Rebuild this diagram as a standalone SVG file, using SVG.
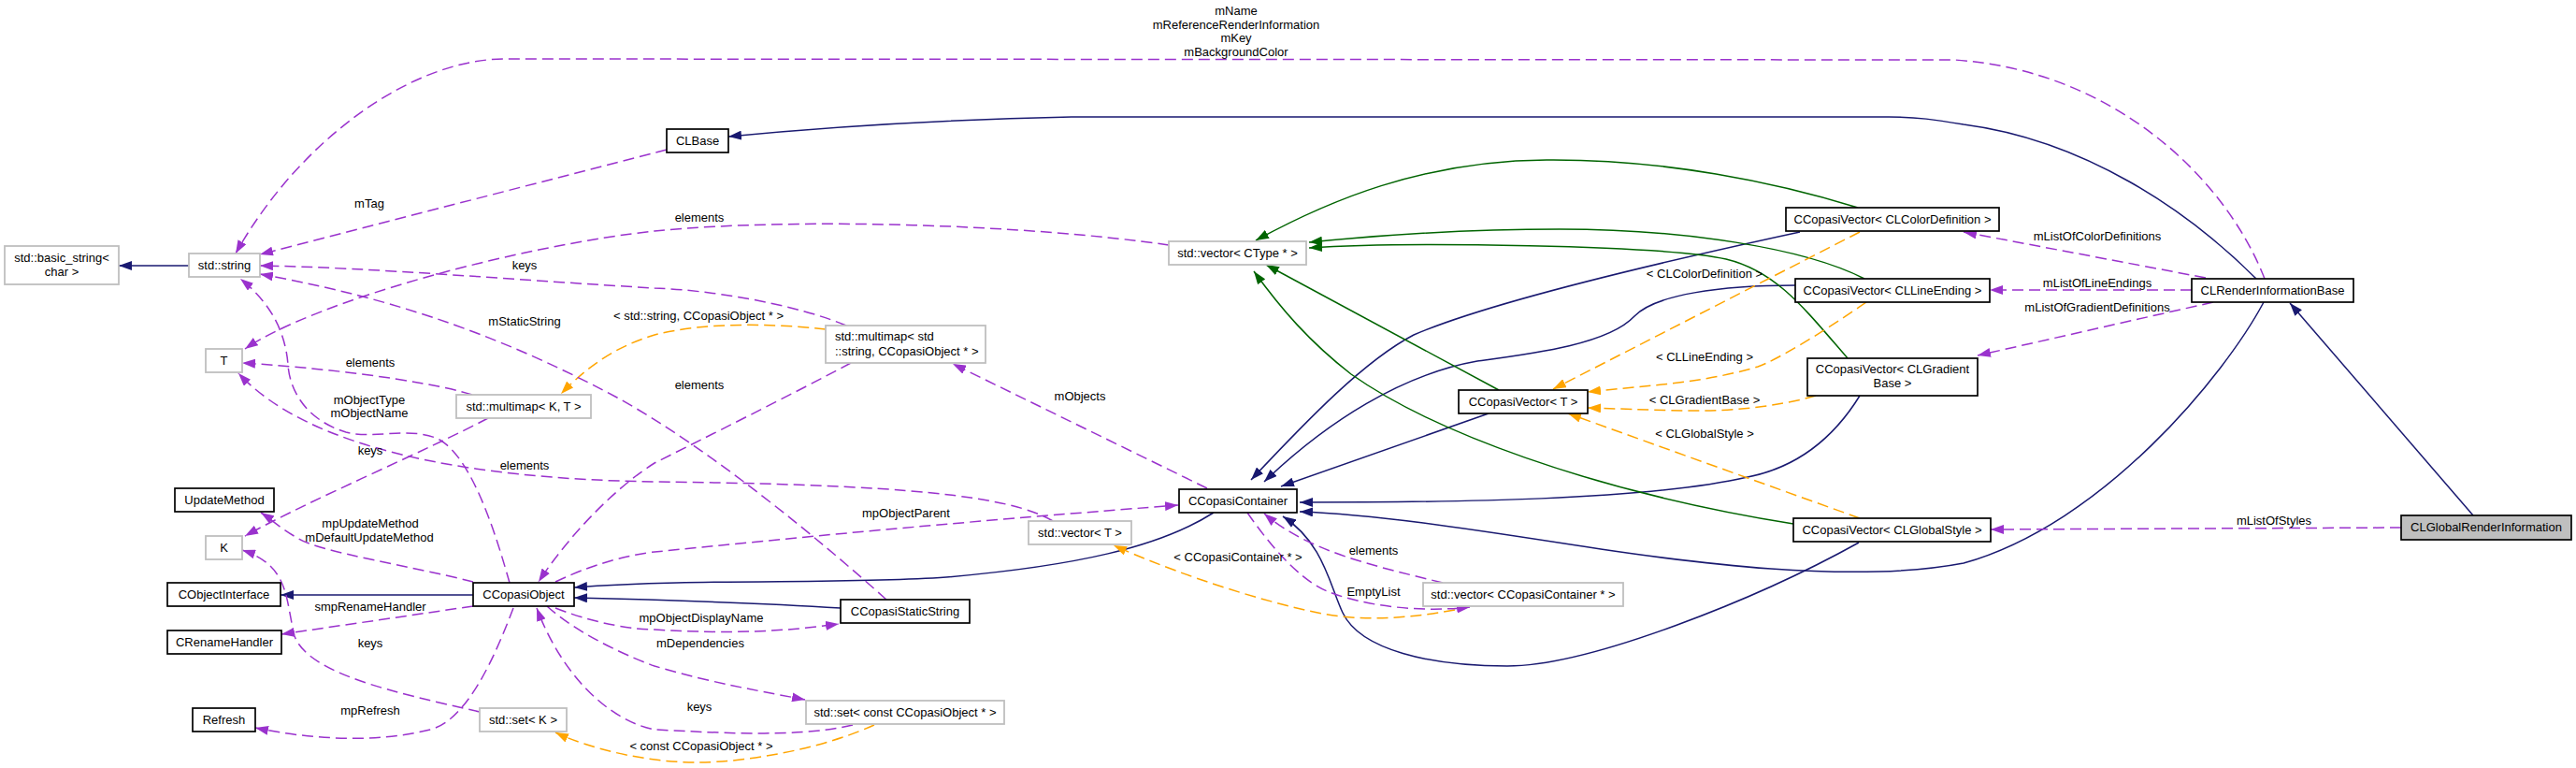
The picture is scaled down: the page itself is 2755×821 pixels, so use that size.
<svg xmlns="http://www.w3.org/2000/svg" width="2755" height="821" viewBox="0 0 2755 821">
<style>
text{font-family:"Liberation Sans",Arial,sans-serif;font-size:13px;fill:#000;text-anchor:middle}
.nb rect{fill:#fff;stroke:#000;stroke-width:1.7}
.ng rect{fill:#fff;stroke:#bfbfbf;stroke-width:1.8}
.nf rect{fill:#bfbfbf;stroke:#000;stroke-width:1.7}
.e path{fill:none;stroke-width:1.5}
.pu{stroke:#9a32cd;stroke-dasharray:12 6}
.or{stroke:#ffa500;stroke-dasharray:12 6}
.bl{stroke:#191970}
.gr{stroke:#006400}
</style>
<defs>
<marker id="mp" viewBox="0 0 14 10" refX="14" refY="5" markerWidth="14" markerHeight="10" markerUnits="userSpaceOnUse" orient="auto"><path d="M0,0 L14,5 L0,10 z" fill="#9a32cd"/></marker>
<marker id="mo" viewBox="0 0 14 10" refX="14" refY="5" markerWidth="14" markerHeight="10" markerUnits="userSpaceOnUse" orient="auto"><path d="M0,0 L14,5 L0,10 z" fill="#ffa500"/></marker>
<marker id="mb" viewBox="0 0 14 10" refX="14" refY="5" markerWidth="14" markerHeight="10" markerUnits="userSpaceOnUse" orient="auto"><path d="M0,0 L14,5 L0,10 z" fill="#191970"/></marker>
<marker id="mg" viewBox="0 0 14 10" refX="14" refY="5" markerWidth="14" markerHeight="10" markerUnits="userSpaceOnUse" orient="auto"><path d="M0,0 L14,5 L0,10 z" fill="#006400"/></marker>
</defs>
<rect width="2755" height="821" fill="#fff"/>
<g id="connectors" class="e">
<!-- blue inheritance -->
<path class="bl" marker-end="url(#mb)" d="M202,284 L127,284"/>
<path class="bl" marker-end="url(#mb)" d="M506,636 L300,636"/>
<path class="bl" marker-end="url(#mb)" d="M2413,298 C2340,225 2230,150 2100,133 C2070,128 2050,125 2020,125 L1146,125 C1000,128 880,136 779,146"/>
<path class="bl" marker-end="url(#mb)" d="M2645,551 L2449,324"/>
<path class="bl" marker-end="url(#mb)" d="M899,650 C820,645 740,642 614,639"/>
<path class="bl" marker-end="url(#mb)" d="M1298,548 C1240,585 1150,605 1012,617 C900,625 750,618 614,628"/>
<path class="bl" marker-end="url(#mb)" d="M1925,248 C1800,275 1600,320 1512,358 C1460,385 1400,447 1338,513"/>
<path class="bl" marker-end="url(#mb)" d="M1920,305 C1840,305 1770,315 1748,338 C1720,368 1640,378 1580,386 C1500,400 1420,450 1352,515"/>
<path class="bl" marker-end="url(#mb)" d="M1592,442 L1370,520"/>
<path class="bl" marker-end="url(#mb)" d="M1989,423 C1960,470 1920,500 1869,510 C1760,535 1550,537 1390,537"/>
<path class="bl" marker-end="url(#mb)" d="M1988,580 C1880,640 1700,712 1612,712 C1530,712 1455,695 1436,655 C1422,625 1415,580 1372,552"/>
<path class="bl" marker-end="url(#mb)" d="M2421,323 C2380,400 2250,560 2100,602 C1980,625 1800,600 1712,587 C1600,570 1480,550 1390,547"/>
<!-- green -->
<path class="gr" marker-end="url(#mg)" d="M1987,222 C1900,195 1780,170 1654,171 C1520,172 1420,215 1343,257"/>
<path class="gr" marker-end="url(#mg)" d="M1994,298 C1930,265 1800,245 1668,245 C1560,245 1470,252 1400,259"/>
<path class="gr" marker-end="url(#mg)" d="M1976,383 C1930,330 1900,290 1846,277 C1780,262 1500,258 1400,265"/>
<path class="gr" marker-end="url(#mg)" d="M1603,417 L1354,283"/>
<path class="gr" marker-end="url(#mg)" d="M1918,560 C1700,525 1530,460 1445,400 C1400,365 1370,330 1341,290"/>
<!-- orange template -->
<path class="or" marker-end="url(#mo)" d="M883,352 C820,345 750,345 700,358 C660,370 630,390 600,421"/>
<path class="or" marker-end="url(#mo)" d="M935,775 C880,800 800,815 745,815 C690,815 630,800 594,783"/>
<path class="or" marker-end="url(#mo)" d="M1556,652 C1500,662 1450,665 1400,653 C1320,635 1240,605 1191,583"/>
<path class="or" marker-end="url(#mo)" d="M1989,248 L1661,416"/>
<path class="or" marker-end="url(#mo)" d="M1996,323 C1950,355 1900,385 1880,392 C1820,410 1760,412 1698,419"/>
<path class="or" marker-end="url(#mo)" d="M1942,423 C1900,435 1850,440 1802,439 C1760,438 1730,437 1698,436"/>
<path class="or" marker-end="url(#mo)" d="M1989,554 L1677,442"/>
<!-- purple usage -->
<path class="pu" marker-end="url(#mp)" d="M2422,298 C2380,190 2260,75 2090,64 L540,63 C440,63 320,150 252,271"/>
<path class="pu" marker-end="url(#mp)" d="M713,160 L278,272"/>
<path class="pu" marker-end="url(#mp)" d="M1250,262 C1100,240 850,232 700,247 C560,262 340,320 262,373"/>
<path class="pu" marker-end="url(#mp)" d="M905,348 C850,325 760,310 700,308 C560,300 400,286 278,284"/>
<path class="pu" marker-end="url(#mp)" d="M948,641 C880,580 760,480 660,425 C520,350 400,315 278,293"/>
<path class="pu" marker-end="url(#mp)" d="M545,623 C530,570 505,490 470,470 C440,455 400,470 370,462 C330,450 310,420 308,390 C305,350 285,320 257,298"/>
<path class="pu" marker-end="url(#mp)" d="M505,422 C450,405 330,392 259,388"/>
<path class="pu" marker-end="url(#mp)" d="M1126,557 C1080,530 970,518 700,515 C500,512 330,480 255,399"/>
<path class="pu" marker-end="url(#mp)" d="M522,447 C460,480 330,535 262,573"/>
<path class="pu" marker-end="url(#mp)" d="M910,388 C850,420 750,470 700,495 C660,520 610,570 576,622"/>
<path class="pu" marker-end="url(#mp)" d="M1291,522 L1019,389"/>
<path class="pu" marker-end="url(#mp)" d="M594,622 C640,600 680,592 700,590 C850,575 1000,560 1260,540"/>
<path class="pu" marker-end="url(#mp)" d="M912,775 C850,790 750,782 700,780 C650,770 600,720 574,650"/>
<path class="pu" marker-end="url(#mp)" d="M585,648 C620,680 680,705 700,712 C760,730 820,740 861,748"/>
<path class="pu" marker-end="url(#mp)" d="M594,650 C640,668 680,673 700,673 C780,678 840,675 897,667"/>
<path class="pu" marker-end="url(#mp)" d="M506,622 C440,605 340,590 318,575 C300,565 290,555 279,548"/>
<path class="pu" marker-end="url(#mp)" d="M506,648 L301,678"/>
<path class="pu" marker-end="url(#mp)" d="M513,761 C420,740 330,720 315,680 C305,640 310,605 259,588"/>
<path class="pu" marker-end="url(#mp)" d="M549,650 C530,700 500,770 460,780 C400,795 330,790 273,778"/>
<path class="pu" marker-end="url(#mp)" d="M2359,297 L2100,248"/>
<path class="pu" marker-end="url(#mp)" d="M2344,310 L2128,310"/>
<path class="pu" marker-end="url(#mp)" d="M2367,323 L2115,380"/>
<path class="pu" marker-end="url(#mp)" d="M2568,564 L2129,566"/>
<path class="pu" marker-end="url(#mp)" d="M1543,623 C1470,605 1400,590 1352,549"/>
<path class="pu" marker-end="url(#mp)" d="M1334,548 C1370,600 1400,625 1422,633 C1460,648 1520,655 1572,649"/>
<!-- labels -->
<text x="1322" y="16">mName</text>
<text x="1322" y="31">mReferenceRenderInformation</text>
<text x="1322" y="45">mKey</text>
<text x="1322" y="60">mBackgroundColor</text>
<text x="395" y="222">mTag</text>
<text x="748" y="237">elements</text>
<text x="561" y="288">keys</text>
<text x="561" y="348">mStaticString</text>
<text x="747" y="342">&lt; std::string, CCopasiObject * &gt;</text>
<text x="396" y="392">elements</text>
<text x="748" y="416">elements</text>
<text x="1155" y="428">mObjects</text>
<text x="395" y="432">mObjectType</text>
<text x="395" y="446">mObjectName</text>
<text x="396" y="486">keys</text>
<text x="561" y="502">elements</text>
<text x="969" y="553">mpObjectParent</text>
<text x="396" y="564">mpUpdateMethod</text>
<text x="395" y="579">mDefaultUpdateMethod</text>
<text x="396" y="653">smpRenameHandler</text>
<text x="750" y="665">mpObjectDisplayName</text>
<text x="749" y="692">mDependencies</text>
<text x="396" y="692">keys</text>
<text x="748" y="760">keys</text>
<text x="396" y="764">mpRefresh</text>
<text x="750" y="802">&lt; const CCopasiObject * &gt;</text>
<text x="1324" y="600">&lt; CCopasiContainer * &gt;</text>
<text x="1469" y="593">elements</text>
<text x="1469" y="637">EmptyList</text>
<text x="1823" y="297">&lt; CLColorDefinition &gt;</text>
<text x="1823" y="386">&lt; CLLineEnding &gt;</text>
<text x="1823" y="432">&lt; CLGradientBase &gt;</text>
<text x="1823" y="468">&lt; CLGlobalStyle &gt;</text>
<text x="2243" y="257">mListOfColorDefinitions</text>
<text x="2243" y="307">mListOfLineEndings</text>
<text x="2243" y="333">mListOfGradientDefinitions</text>
<text x="2432" y="561">mListOfStyles</text>
</g>
<g id="n_basic_string" class="ng"><rect x="5" y="263" width="122" height="41"/><text x="66" y="280">std::basic_string&lt;</text><text x="66" y="295">char &gt;</text></g>
<g id="n_std_string" class="ng"><rect x="202" y="271" width="76" height="25"/><text x="240" y="288">std::string</text></g>
<g id="n_T" class="ng"><rect x="220" y="373" width="39" height="25"/><text x="239.5" y="390">T</text></g>
<g id="n_UpdateMethod" class="nb"><rect x="187" y="522" width="106" height="25"/><text x="240" y="539">UpdateMethod</text></g>
<g id="n_K" class="ng"><rect x="220" y="573" width="39" height="25"/><text x="239.5" y="590">K</text></g>
<g id="n_CObjectInterface" class="nb"><rect x="179" y="623" width="121" height="25"/><text x="239.5" y="640">CObjectInterface</text></g>
<g id="n_CRenameHandler" class="nb"><rect x="179" y="674" width="122" height="25"/><text x="240" y="691">CRenameHandler</text></g>
<g id="n_Refresh" class="nb"><rect x="206" y="757" width="67" height="25"/><text x="239.5" y="774">Refresh</text></g>
<g id="n_CCopasiObject" class="nb"><rect x="506" y="623" width="108" height="25"/><text x="560" y="640">CCopasiObject</text></g>
<g id="n_multimap_KT" class="ng"><rect x="488" y="422" width="144" height="25"/><text x="560" y="439">std::multimap&lt; K, T &gt;</text></g>
<g id="n_set_K" class="ng"><rect x="513" y="757" width="93" height="25"/><text x="559.5" y="774">std::set&lt; K &gt;</text></g>
<g id="n_CLBase" class="nb"><rect x="713" y="138" width="66" height="25"/><text x="746" y="155">CLBase</text></g>
<g id="n_multimap_str" class="ng"><rect x="883" y="348" width="171" height="40"/><text x="893" y="364" style="text-anchor:start">std::multimap&lt; std</text><text x="893" y="380" style="text-anchor:start">::string, CCopasiObject * &gt;</text></g>
<g id="n_vector_T" class="ng"><rect x="1100" y="557" width="110" height="25"/><text x="1155" y="574">std::vector&lt; T &gt;</text></g>
<g id="n_CCopasiStaticString" class="nb"><rect x="899" y="641" width="138" height="25"/><text x="968" y="658">CCopasiStaticString</text></g>
<g id="n_set_const" class="ng"><rect x="862" y="749" width="212" height="25"/><text x="968" y="766">std::set&lt; const CCopasiObject * &gt;</text></g>
<g id="n_CCopasiContainer" class="nb"><rect x="1261" y="523" width="126" height="25"/><text x="1324" y="540">CCopasiContainer</text></g>
<g id="n_vector_CType" class="ng"><rect x="1250" y="258" width="147" height="25"/><text x="1323.5" y="275">std::vector&lt; CType * &gt;</text></g>
<g id="n_vector_CCC" class="ng"><rect x="1522" y="623" width="214" height="25"/><text x="1629" y="640">std::vector&lt; CCopasiContainer * &gt;</text></g>
<g id="n_CCopasiVector_T" class="nb"><rect x="1560" y="417" width="138" height="25"/><text x="1629" y="434">CCopasiVector&lt; T &gt;</text></g>
<g id="n_CV_ColorDef" class="nb"><rect x="1910" y="222" width="228" height="25"/><text x="2024" y="239">CCopasiVector&lt; CLColorDefinition &gt;</text></g>
<g id="n_CV_LineEnding" class="nb"><rect x="1920" y="298" width="208" height="25"/><text x="2024" y="315">CCopasiVector&lt; CLLineEnding &gt;</text></g>
<g id="n_CV_Gradient" class="nb"><rect x="1933" y="383" width="182" height="40"/><text x="2024" y="399">CCopasiVector&lt; CLGradient</text><text x="2024" y="414">Base &gt;</text></g>
<g id="n_CV_GlobalStyle" class="nb"><rect x="1918" y="554" width="211" height="25"/><text x="2023.5" y="571">CCopasiVector&lt; CLGlobalStyle &gt;</text></g>
<g id="n_CLRenderInformationBase" class="nb"><rect x="2344" y="298" width="173" height="25"/><text x="2430.5" y="315">CLRenderInformationBase</text></g>
<g id="n_CLGlobalRenderInformation" class="nf"><rect x="2568" y="551" width="182" height="26"/><text x="2659" y="568">CLGlobalRenderInformation</text></g>
</svg>
